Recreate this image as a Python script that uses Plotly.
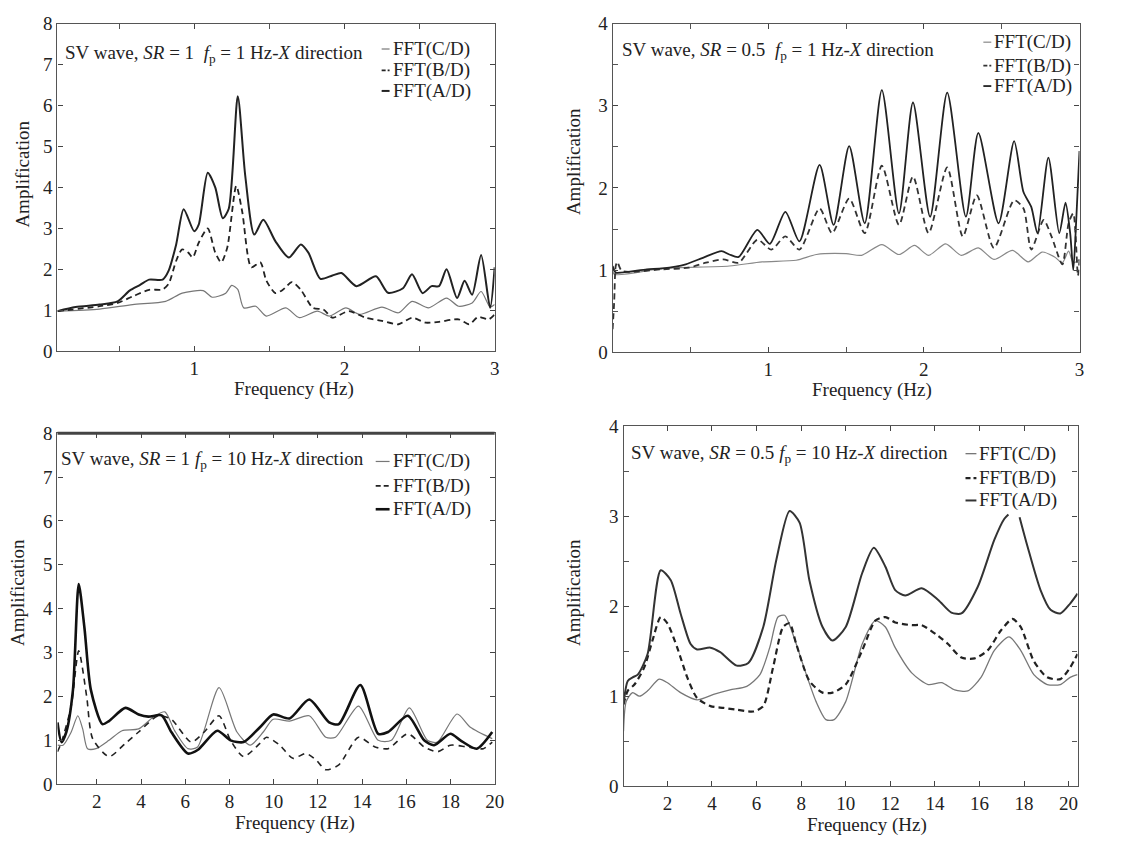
import plotly.graph_objects as go

# ---- panel 1: SR = 1, fp = 1 Hz ----
p1_ad_f = [0.09, 0.21, 0.37, 0.49, 0.57, 0.64, 0.70, 0.79, 0.83, 0.88, 0.93, 1.0, 1.03, 1.09, 1.14, 1.19, 1.23,
           1.29, 1.34, 1.40, 1.46, 1.54, 1.63, 1.71, 1.76, 1.84, 1.92, 1.98, 2.08, 2.21, 2.29, 2.39, 2.45, 2.52,
           2.58, 2.63, 2.68, 2.75, 2.80, 2.85, 2.91, 2.97, 3.0]
p1_ad_a = [0.98, 1.08, 1.14, 1.22, 1.48, 1.62, 1.75, 1.75, 1.97, 2.61, 3.47, 2.93, 3.09, 4.36, 4.0, 3.25, 3.48,
           6.23, 4.28, 2.85, 3.21, 2.69, 2.29, 2.61, 2.41, 1.77, 1.85, 1.91, 1.59, 1.83, 1.43, 1.54, 1.88, 1.42,
           1.59, 1.59, 2.0, 1.30, 1.72, 1.38, 2.35, 1.06, 2.05]
p1_bd_f = [0.09, 0.37, 0.49, 0.59, 0.70, 0.79, 0.83, 0.88, 0.92, 0.96, 0.99, 1.03, 1.09, 1.14, 1.18, 1.22, 1.28,
           1.32, 1.38, 1.44, 1.48, 1.54, 1.59, 1.65, 1.71, 1.79, 1.86, 1.92, 2.03, 2.14, 2.25, 2.36, 2.45, 2.54,
           2.63, 2.76, 2.83, 2.89, 2.96, 3.0]
p1_bd_a = [0.98, 1.10, 1.18, 1.34, 1.50, 1.51, 1.65, 2.21, 2.49, 2.41, 2.29, 2.65, 3.0, 2.41, 2.17, 2.53, 4.04,
           3.40, 2.05, 2.17, 1.73, 1.42, 1.50, 1.69, 1.50, 1.06, 1.02, 0.82, 0.98, 0.82, 0.74, 0.66, 0.82, 0.70,
           0.72, 0.78, 0.66, 0.84, 0.78, 0.90]
p1_cd_f = [0.09, 0.37, 0.59, 0.81, 0.92, 1.06, 1.12, 1.21, 1.25, 1.29, 1.33, 1.41, 1.48, 1.61, 1.70, 1.82, 1.90,
           2.01, 2.10, 2.25, 2.36, 2.45, 2.56, 2.68, 2.76, 2.85, 2.91, 2.97, 3.0]
p1_cd_a = [0.98, 1.03, 1.14, 1.22, 1.42, 1.48, 1.32, 1.42, 1.61, 1.51, 1.06, 1.10, 0.86, 1.06, 0.82, 0.98, 0.86,
           1.06, 0.90, 1.08, 0.94, 1.22, 1.06, 1.30, 1.10, 1.18, 1.46, 1.08, 1.14]

# ---- panel 2: SR = 0.5, fp = 1 Hz ----
p2_ad_f = [0.0, 0.01, 0.02, 0.22, 0.32, 0.47, 0.58, 0.70, 0.75, 0.81, 0.93, 1.01, 1.11, 1.20, 1.33, 1.42, 1.52,
           1.62, 1.73, 1.84, 1.93, 2.04, 2.15, 2.27, 2.35, 2.48, 2.58, 2.64, 2.69, 2.73, 2.80, 2.87, 2.91, 2.94,
           2.96, 2.98, 3.0]
p2_ad_a = [1.05, 1.0, 0.97, 1.01, 1.02, 1.07, 1.15, 1.23, 1.19, 1.16, 1.49, 1.32, 1.71, 1.35, 2.28, 1.55, 2.51,
           1.57, 3.19, 1.69, 3.04, 1.65, 3.16, 1.65, 2.67, 1.57, 2.57, 1.95, 1.77, 1.45, 2.37, 1.45, 1.82, 1.45,
           1.0, 1.65, 2.45]
p2_bd_f = [0.0, 0.01, 0.02, 0.03, 0.06, 0.32, 0.49, 0.60, 0.71, 0.81, 0.93, 1.02, 1.11, 1.20, 1.33, 1.41, 1.52,
           1.62, 1.73, 1.84, 1.93, 2.03, 2.15, 2.25, 2.34, 2.45, 2.58, 2.64, 2.69, 2.77, 2.82, 2.89, 2.93, 2.96,
           2.99, 3.0]
p2_bd_a = [0.28, 0.61, 1.05, 1.1, 0.99, 1.01, 1.03, 1.09, 1.13, 1.09, 1.37, 1.25, 1.41, 1.25, 1.75, 1.45, 1.87,
           1.45, 2.27, 1.55, 2.14, 1.45, 2.25, 1.41, 1.91, 1.27, 1.85, 1.75, 1.25, 1.61, 1.41, 1.07, 1.57, 1.69,
           0.93, 1.13]
p2_cd_f = [0.0, 0.01, 0.32, 0.75, 0.96, 1.18, 1.31, 1.50, 1.60, 1.73, 1.84, 1.94, 2.03, 2.14, 2.24, 2.35, 2.45,
           2.57, 2.67, 2.76, 2.84, 2.89, 2.93, 2.96, 3.0]
p2_cd_a = [1.05, 0.95, 1.02, 1.05, 1.10, 1.12, 1.19, 1.20, 1.18, 1.31, 1.19, 1.30, 1.18, 1.32, 1.18, 1.27, 1.13,
           1.24, 1.10, 1.22, 1.16, 1.09, 1.23, 1.09, 1.13]

# ---- panel 3: SR = 1, fp = 10 Hz ----
p3_ad_f = [0.22, 0.40, 0.62, 0.92, 1.18, 1.44, 1.73, 2.25, 2.55, 3.29, 3.89, 4.33, 4.93, 5.37, 6.12, 6.56, 7.45,
           8.05, 8.64, 9.38, 9.98, 10.72, 11.61, 12.51, 12.95, 13.92, 14.73, 15.18, 16.07, 16.81, 17.26, 18.0,
           18.45, 19.19, 19.89]
p3_ad_a = [1.41, 0.96, 1.19, 2.15, 4.56, 3.56, 2.15, 1.37, 1.44, 1.74, 1.59, 1.54, 1.57, 1.19, 0.70, 0.78, 1.22,
           1.0, 0.96, 1.30, 1.59, 1.50, 1.93, 1.41, 1.37, 2.26, 1.15, 1.19, 1.56, 1.0, 0.89, 1.15, 1.0, 0.81, 1.19]
p3_bd_f = [0.22, 0.40, 0.84, 1.18, 1.54, 1.81, 2.55, 3.29, 3.89, 4.78, 5.37, 6.27, 6.86, 7.53, 8.05, 8.64, 9.38,
           9.68, 10.28, 10.87, 11.46, 11.91, 12.36, 12.95, 13.84, 14.59, 15.18, 16.07, 16.81, 17.41, 18.0, 18.74,
           19.49, 19.89]
p3_bd_a = [0.74, 0.96, 1.78, 3.04, 2.0, 1.04, 0.63, 0.93, 1.19, 1.56, 1.48, 0.96, 1.19, 1.56, 1.0, 0.63, 0.93,
           1.07, 0.89, 0.59, 0.70, 0.56, 0.33, 0.44, 1.07, 0.85, 0.81, 1.15, 0.85, 0.74, 0.89, 0.85, 0.81, 0.96]
p3_cd_f = [0.22, 0.47, 0.84, 1.14, 1.36, 1.58, 1.96, 2.55, 3.14, 3.89, 4.63, 5.08, 5.52, 6.12, 6.56, 7.53, 8.34,
           8.94, 9.53, 9.98, 10.72, 11.61, 12.36, 12.80, 13.84, 14.73, 15.33, 16.14, 16.96, 17.41, 18.3, 18.9,
           19.89]
p3_cd_a = [0.89, 0.89, 1.19, 1.56, 1.26, 0.81, 0.81, 1.0, 1.22, 1.26, 1.56, 1.65, 1.22, 0.81, 0.85, 2.2, 1.19,
           0.89, 1.19, 1.48, 1.44, 1.56, 1.07, 1.07, 1.78, 1.0, 1.0, 1.74, 1.0, 0.96, 1.6, 1.30, 1.04]

# ---- panel 4: SR = 0.5, fp = 10 Hz ----
p4_ad_f = [0.03, 0.22, 0.44, 0.67, 1.11, 1.70, 2.15, 2.59, 3.04, 3.33, 3.93, 4.37, 5.11, 5.63, 6.30, 6.89, 7.48,
           7.93, 8.37, 8.96, 9.41, 10.0, 10.74, 11.26, 11.78, 12.22, 12.67, 13.41, 14.15, 14.74, 15.19, 15.93,
           16.67, 17.11, 17.3, 17.6, 17.8, 18.15, 18.74, 19.19, 19.63, 20.07, 20.4]
p4_ad_a = [0.91, 1.17, 1.21, 1.24, 1.47, 2.40, 2.29, 1.92, 1.58, 1.52, 1.54, 1.49, 1.34, 1.37, 1.77, 2.52, 3.06,
           2.93, 2.29, 1.77, 1.62, 1.77, 2.37, 2.65, 2.44, 2.18, 2.12, 2.2, 2.07, 1.93, 1.92, 2.22, 2.74, 2.97,
           3.02, None, 2.99, 2.67, 2.18, 1.96, 1.92, 2.03, 2.14]
p4_bd_f = [0.03, 0.22, 0.52, 0.96, 1.33, 1.70, 2.0, 2.44, 2.89, 3.33, 3.93, 4.52, 5.11, 5.85, 6.30, 6.74, 7.19,
           7.48, 7.78, 8.37, 8.96, 9.41, 10.0, 10.74, 11.33, 11.78, 12.22, 12.96, 13.41, 14.15, 14.59, 15.19,
           15.78, 16.37, 16.96, 17.48, 17.85, 18.44, 19.04, 19.63, 20.07, 20.4]
p4_bd_a = [0.91, 1.06, 1.13, 1.32, 1.62, 1.88, 1.81, 1.54, 1.21, 0.98, 0.89, 0.87, 0.85, 0.83, 0.89, 1.32, 1.77,
           1.81, 1.58, 1.17, 1.04, 1.04, 1.13, 1.51, 1.84, 1.88, 1.82, 1.79, 1.79, 1.67, 1.58, 1.43, 1.42, 1.51,
           1.73, 1.86, 1.77, 1.39, 1.21, 1.19, 1.32, 1.47]
p4_cd_f = [0.03, 0.15, 0.44, 0.74, 1.11, 1.63, 2.0, 2.59, 3.33, 4.07, 4.81, 5.56, 6.15, 6.59, 6.96, 7.26, 7.63,
           8.07, 8.67, 9.11, 9.48, 10.0, 10.74, 11.33, 11.78, 12.22, 12.96, 13.70, 14.30, 14.89, 15.48, 16.07,
           16.67, 17.33, 17.85, 18.44, 19.04, 19.63, 20.07, 20.4]
p4_cd_a = [0.61, 0.94, 1.04, 1.0, 1.06, 1.19, 1.15, 1.04, 0.96, 1.02, 1.07, 1.11, 1.24, 1.54, 1.88, 1.90, 1.69,
           1.36, 0.94, 0.74, 0.74, 0.94, 1.58, 1.84, 1.77, 1.54, 1.26, 1.13, 1.15, 1.07, 1.06, 1.21, 1.51, 1.66,
           1.51, 1.24, 1.13, 1.13, 1.21, 1.24]

series_names = ["FFT(C/D)", "FFT(B/D)", "FFT(A/D)"]
panel_titles = [
    "SV wave, <i>SR</i> = 1  <i>f</i><sub>p</sub> = 1 Hz-<i>X</i> direction",
    "SV wave, <i>SR</i> = 0.5  <i>f</i><sub>p</sub> = 1 Hz-<i>X</i> direction",
    "SV wave, <i>SR</i> = 1 <i>f</i><sub>p</sub> = 10 Hz-<i>X</i> direction",
    "SV wave, <i>SR</i> = 0.5 <i>f</i><sub>p</sub> = 10 Hz-<i>X</i> direction",
]
x_title = "Frequency (Hz)"
y_title = "Amplification"

FONT = "Liberation Serif"
W, H = 1147, 843

panels = [
    (p1_cd_f, p1_cd_a, p1_bd_f, p1_bd_a, p1_ad_f, p1_ad_a),
    (p2_cd_f, p2_cd_a, p2_bd_f, p2_bd_a, p2_ad_f, p2_ad_a),
    (p3_cd_f, p3_cd_a, p3_bd_f, p3_bd_a, p3_ad_f, p3_ad_a),
    (p4_cd_f, p4_cd_a, p4_bd_f, p4_bd_a, p4_ad_f, p4_ad_a),
]
# line styles per panel: (C/D, B/D, A/D)
styles = [
    [dict(color="#777", width=1.2), dict(color="#222", width=1.8, dash="6px,4px"), dict(color="#222", width=2)],
    [dict(color="#888", width=1.2), dict(color="#333", width=1.8, dash="6px,4px"), dict(color="#222", width=1.8)],
    [dict(color="#777", width=1.2), dict(color="#222", width=1.6, dash="6px,5px"), dict(color="#111", width=2.6)],
    [dict(color="#777", width=1.3), dict(color="#222", width=2.2, dash="6px,4px"), dict(color="#333", width=2)],
]

# pixel boxes of the four plot areas (left, top, right, bottom)
boxes = [(58, 14, 499, 350), (618, 14, 1089, 351), (58, 434, 499, 794), (629, 427, 1087, 796)]
xranges = [[0.09, 3.0], [0.0, 3.0], [0.22, 20.0], [0.03, 20.4]]
yranges = [[0, 8], [0, 4], [0, 8], [0, 4]]
xticks = [[1, 2, 3], [1, 2, 3], list(range(2, 21, 2)), list(range(2, 21, 2))]
yticks = [list(range(0, 9)), list(range(0, 5)), list(range(0, 9)), list(range(0, 5))]
xminor = [0.5, 0.5, None, None]
yminor = [None, 0.5, None, 0.5]
note_pos = [(64, 45), (625, 42), (60, 462), (635, 455)]
# key: text left edge, row centres, swatch length
key_pos = [(395, [40, 62, 83], 8), (1002, [33, 57, 78], 8), (395, [463, 488, 512], 14), (987, [455, 480, 503], 11)]
xtitle_pos = [(297, 389), (880, 390), (298, 834), (875, 836)]
ytitle_pos = [(23, 168), (578, 155), (17, 597), (578, 597)]


def fx(px):
    return px / W


def fy(py):
    return 1 - py / H


fig = go.Figure()
for i, (data, sty) in enumerate(zip(panels, styles)):
    sfx = "" if i == 0 else str(i + 1)
    for k in range(3):
        fig.add_trace(go.Scatter(
            x=data[2 * k], y=data[2 * k + 1], name=series_names[k], mode="lines",
            line=dict(shape="spline", smoothing=0.7, **sty[k]),
            xaxis="x" + sfx, yaxis="y" + sfx, showlegend=False, connectgaps=False,
        ))

layout = dict(
    width=W, height=H, plot_bgcolor="white", paper_bgcolor="white",
    margin=dict(l=0, r=0, t=0, b=0), showlegend=False,
    font=dict(family=FONT, size=19, color="#222"),
)
annotations = []
shapes = []
txt = dict(xref="paper", yref="paper", showarrow=False, font=dict(family=FONT, size=19, color="#222"))
for i in range(4):
    sfx = "" if i == 0 else str(i + 1)
    l, t, r, b = boxes[i]
    ax = dict(
        domain=[fx(l), fx(r)], range=xranges[i], tickvals=xticks[i], ticks="inside", ticklen=5,
        showline=True, mirror="ticks", linecolor="#555", linewidth=1.2, showgrid=False, zeroline=False,
        tickfont=dict(family=FONT, size=19, color="#222"), anchor="y" + sfx,
    )
    if xminor[i]:
        ax["minor"] = dict(dtick=xminor[i], ticks="inside", ticklen=5, tickcolor="#555")
    ay = dict(
        domain=[fy(b), fy(t)], range=yranges[i], tickvals=yticks[i], ticks="inside", ticklen=5,
        showline=True, mirror="ticks", linecolor="#555", linewidth=1.2, showgrid=False, zeroline=False,
        tickfont=dict(family=FONT, size=19, color="#222"), anchor="x" + sfx,
    )
    if yminor[i]:
        ay["minor"] = dict(dtick=yminor[i], ticks="inside", ticklen=5, tickcolor="#555")
    layout["xaxis" + sfx] = ax
    layout["yaxis" + sfx] = ay

    # axis titles sit a little off centre in the reference, so place them directly
    tx, ty = xtitle_pos[i]
    annotations.append(dict(text=x_title, x=fx(tx), y=fy(ty), xanchor="center", yanchor="middle", **txt))
    tx, ty = ytitle_pos[i]
    annotations.append(dict(text=y_title, x=fx(tx), y=fy(ty), xanchor="center", yanchor="middle",
                            textangle=-90, **txt))

    nx, ny = note_pos[i]
    annotations.append(dict(text=panel_titles[i], x=fx(nx), y=fy(ny), xanchor="left", yanchor="middle", **txt))

    # key in the upper right corner: short line sample + series name
    kx, rows, klen = key_pos[i]
    for k, ky in enumerate(rows):
        annotations.append(dict(text=series_names[k], x=fx(kx - 1), y=fy(ky), xanchor="left",
                                yanchor="middle", **txt))
        sty = dict(styles[i][k])
        if "dash" in sty:
            sty["dash"] = "4px,2px" if klen < 10 else "5px,3px"
        shapes.append(dict(type="line", xref="paper", yref="paper",
                           x0=fx(kx - 2 - klen), x1=fx(kx - 2), y0=fy(ky), y1=fy(ky), line=sty))

layout["annotations"] = annotations
# the top frame of the third panel is drawn heavier in the reference
shapes.append(dict(type="line", xref="x3 domain", yref="y3 domain", x0=0, x1=1, y0=1, y1=1,
                   line=dict(color="#444", width=3)))
layout["shapes"] = shapes

fig.update_layout(**layout)
# drop the page's default body margin so the figure fills the window exactly
fig.write_html("out.html", config={"displayModeBar": False},
               post_script="document.body.style.margin='0';document.body.style.overflow='hidden';")
